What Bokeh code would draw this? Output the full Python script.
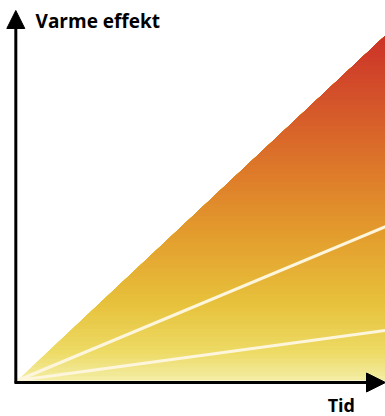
import numpy as np
from bokeh.plotting import figure
from bokeh.models import Range1d, Arrow, NormalHead, Label
from bokeh.embed import file_html
from bokeh.resources import INLINE

# Data: time axis end and heating effect per series (slope * time)
time_end = 10.0
slope_outer = 10.0          # upper edge of the filled area
slope_lines = [4.46, 1.45]  # white lines
y_label = "Varme effekt"
x_label = "Tid"

# gradient stops (fraction of height, colour)
grad_pos = [0.0, 0.08, 0.22, 0.42, 0.62, 0.82, 1.0]
grad_col = ["#f3eda6", "#eddb66", "#e7c23c", "#e39d2d", "#dd772a", "#d4522a", "#cb3228"]

def hex2rgb(h):
    h = h.lstrip("#")
    return np.array([int(h[i:i + 2], 16) for i in (0, 2, 4)], dtype=float)

rgb = np.array([hex2rgb(c) for c in grad_col])

def col_at(f):
    r = [np.interp(f, grad_pos, rgb[:, k]) for k in range(3)]
    return "#%02x%02x%02x" % tuple(int(round(v)) for v in r)

p = figure(width=385, height=416, output_backend="svg", toolbar_location=None,
           x_range=Range1d(-0.462, 10.0), y_range=Range1d(-10.435, 110.145),
           min_border=0)
p.axis.visible = False
p.grid.visible = False
p.outline_line_color = None
p.background_fill_color = "white"

top = slope_outer * time_end
N = 80
xs, ys, cs = [], [], []
for i in range(N):
    h1 = top * i / N
    x1 = h1 / slope_outer
    xs.append([x1, time_end, time_end, time_end])
    ys.append([h1, h1, top, top])
    cs.append(col_at((i + 0.5) / N))
p.patches(xs, ys, fill_color=cs, line_color=None)

for s in slope_lines:
    p.line([0, time_end], [0, s * time_end], line_color="#fdf6dc", line_width=3)

# axes with arrows
ax_x = -0.046
ax_y = -0.58
p.add_layout(Arrow(end=NormalHead(size=18, fill_color="black", line_color="black"),
                   x_start=ax_x, y_start=ax_y - 0.3, x_end=ax_x, y_end=107.25,
                   line_width=3, line_color="black"))
p.add_layout(Arrow(end=NormalHead(size=19, fill_color="black", line_color="black"),
                   x_start=ax_x - 0.03, y_start=ax_y, x_end=time_end, y_end=ax_y,
                   line_width=3, line_color="black"))

p.add_layout(Label(x=0.49, y=104.2, text=y_label, text_font="Open Sans",
                   text_font_style="bold", text_font_size="19px", text_color="black",
                   text_baseline="alphabetic"))
p.add_layout(Label(x=8.80, y=-7.0, text=x_label, text_font="Open Sans",
                   text_font_style="bold", text_font_size="18px", text_color="black",
                   text_align="center", text_baseline="alphabetic"))

open("out.html", "w").write(file_html(p, INLINE))
